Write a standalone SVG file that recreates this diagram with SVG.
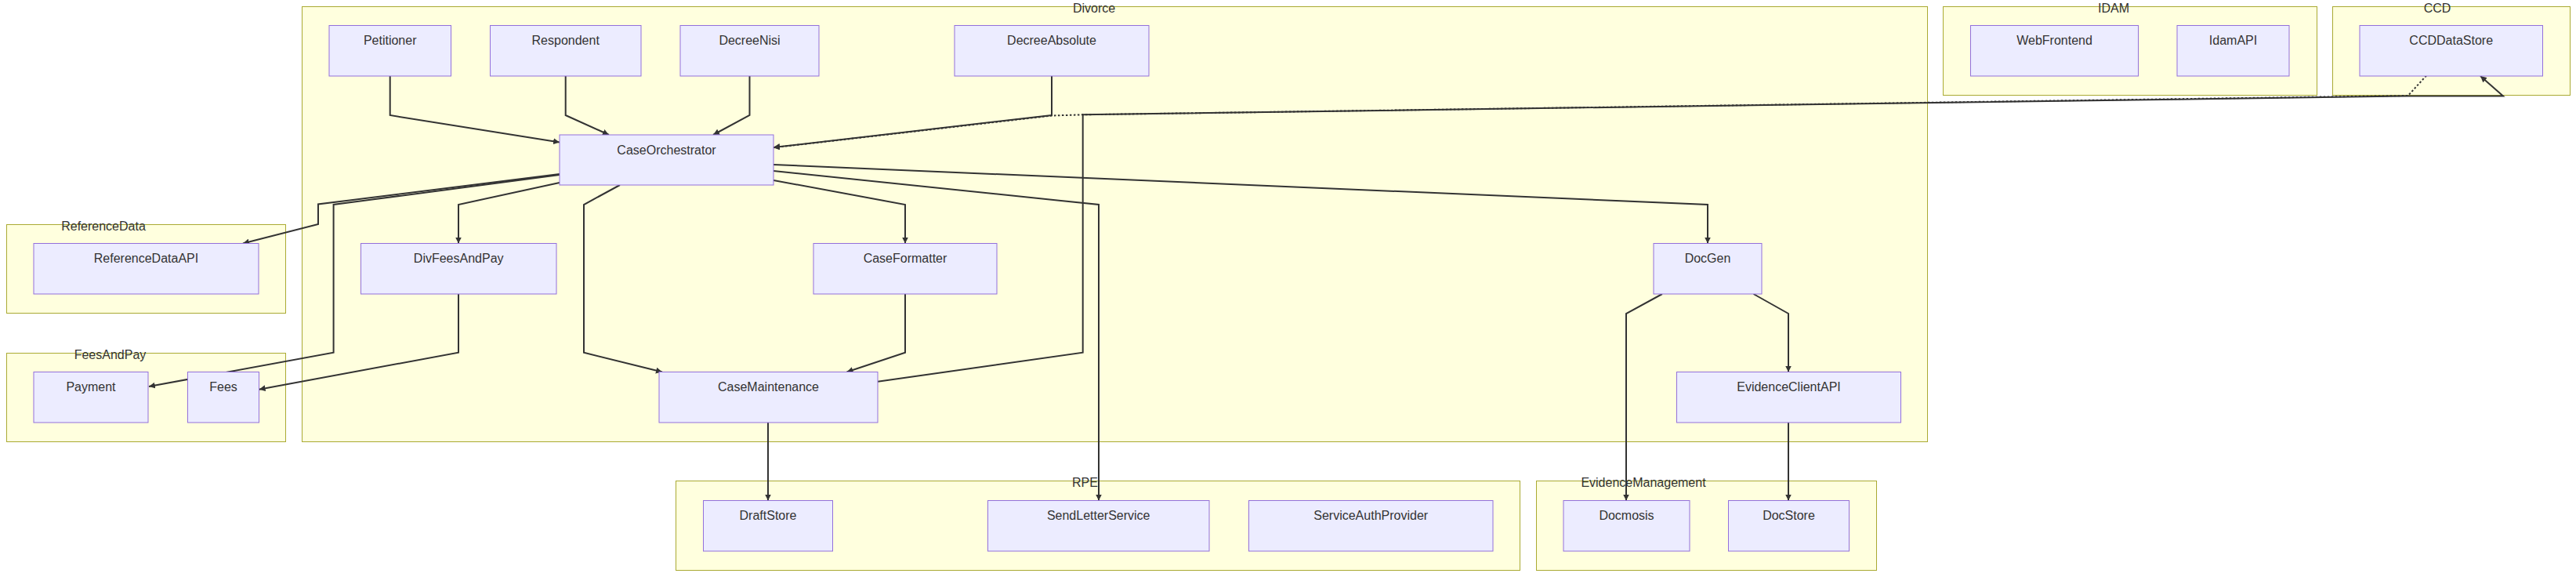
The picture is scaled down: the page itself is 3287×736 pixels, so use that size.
<svg xmlns="http://www.w3.org/2000/svg" width="3287" height="736" viewBox="0 0 3287 736">
<defs>
<style>
.cluster rect{fill:#ffffde;stroke:#aaaa33;stroke-width:1}
.cluster text{font-family:"Liberation Sans",Arial,sans-serif;font-size:16px;fill:#333;text-anchor:middle}
.node rect{fill:#ececff;stroke:#9370db;stroke-width:1}
.node text{font-family:"Liberation Sans",Arial,sans-serif;font-size:16px;fill:#333;text-anchor:middle}
.edge{fill:none;stroke:#333;stroke-width:2;marker-end:url(#arrow)}
.dotted{stroke-dasharray:2.5 2.5}
</style>
<marker id="arrow" viewBox="0 0 10 10" refX="10" refY="5" markerWidth="8" markerHeight="8" markerUnits="userSpaceOnUse" orient="auto">
<path d="M0,0 L10,5 L0,10 z" fill="#333"/>
</marker>
</defs>
<rect width="3287" height="736" fill="#ffffff"/>
<g id="clusters">
<g class="cluster" id="cluster-Divorce"><rect x="385.5" y="8.5" width="2074" height="555"/><text x="1396" y="15.5">Divorce</text></g>
<g class="cluster" id="cluster-ReferenceData"><rect x="8.5" y="286.5" width="356" height="113"/><text x="132" y="293.5">ReferenceData</text></g>
<g class="cluster" id="cluster-FeesAndPay"><rect x="8.5" y="450.5" width="356" height="113"/><text x="140.5" y="457.5">FeesAndPay</text></g>
<g class="cluster" id="cluster-IDAM"><rect x="2479.5" y="8.5" width="477" height="113"/><text x="2697" y="15.5">IDAM</text></g>
<g class="cluster" id="cluster-CCD"><rect x="2976.5" y="8.5" width="303" height="113"/><text x="3110" y="15.5">CCD</text></g>
<g class="cluster" id="cluster-RPE"><rect x="862.5" y="613.5" width="1077" height="114"/><text x="1384.5" y="620.5">RPE</text></g>
<g class="cluster" id="cluster-EvidenceManagement"><rect x="1960.5" y="613.5" width="434" height="114"/><text x="2097" y="620.5">EvidenceManagement</text></g>
</g>
<g id="connectors">
<path class="edge" d="M497.7,97 L497.7,147 L714,181.5"/>
<path class="edge" d="M721.7,97 L721.7,147 L777,172"/>
<path class="edge" d="M956.5,97 L956.5,147 L910,172"/>
<path class="edge" d="M1342,97 L1342,147 L987,188"/>
<path class="edge dotted" d="M3096,96.5 L3072.7,122 L1381.7,146.3 L1342,147.5 L987,188.3"/>
<path class="edge" d="M1120,486.7 L1381.7,449.7 L1381.7,146.3 L3072.7,122.5 L3194,122.5 L3165,97"/>
<path class="edge" d="M714,222 L406,260.5 L406,286 L310,310.5"/>
<path class="edge" d="M714,223 L425.6,261 L425.6,449.7 L190,493"/>
<path class="edge" d="M714,233 L585,261 L585,310.5"/>
<path class="edge" d="M585,375 L585,449.7 L330.6,496.7"/>
<path class="edge" d="M791,236 L745,261 L745,449.7 L845,474.5"/>
<path class="edge" d="M987,230 L1155,261 L1155,310.5"/>
<path class="edge" d="M1155,375 L1155,449.7 L1080.5,474.5"/>
<path class="edge" d="M987,218 L1402,261 L1402,638.5"/>
<path class="edge" d="M987,210 L2179,261 L2179,310.5"/>
<path class="edge" d="M2121,375 L2075,400 L2075,638.5"/>
<path class="edge" d="M2237.5,375 L2282,400 L2282,474.5"/>
<path class="edge" d="M2282,539 L2282,638.5"/>
<path class="edge" d="M980,539 L980,638.5"/>
</g>
<g class="node" id="Petitioner"><rect x="420" y="32.5" width="155.5" height="64.5"/><text x="497.7" y="57">Petitioner</text></g>
<g class="node" id="Respondent"><rect x="625.5" y="32.5" width="192.5" height="64.5"/><text x="721.7" y="57">Respondent</text></g>
<g class="node" id="DecreeNisi"><rect x="868" y="32.5" width="177" height="64.5"/><text x="956.5" y="57">DecreeNisi</text></g>
<g class="node" id="DecreeAbsolute"><rect x="1218" y="32.5" width="248" height="64.5"/><text x="1342" y="57">DecreeAbsolute</text></g>
<g class="node" id="CaseOrchestrator"><rect x="714" y="172" width="273" height="64"/><text x="850.5" y="196.5">CaseOrchestrator</text></g>
<g class="node" id="ReferenceDataAPI"><rect x="43" y="310.5" width="287" height="64.5"/><text x="186.5" y="335">ReferenceDataAPI</text></g>
<g class="node" id="DivFeesAndPay"><rect x="460.5" y="310.5" width="249.5" height="64.5"/><text x="585.2" y="335">DivFeesAndPay</text></g>
<g class="node" id="CaseFormatter"><rect x="1038" y="310.5" width="234" height="64.5"/><text x="1155" y="335">CaseFormatter</text></g>
<g class="node" id="DocGen"><rect x="2110" y="310.5" width="138" height="64.5"/><text x="2179" y="335">DocGen</text></g>
<g class="node" id="Payment"><rect x="43" y="474.5" width="146" height="64.5"/><text x="116" y="499">Payment</text></g>
<g class="node" id="Fees"><rect x="239.5" y="474.5" width="91" height="64.5"/><text x="285" y="499">Fees</text></g>
<g class="node" id="CaseMaintenance"><rect x="841" y="474.5" width="279" height="64.5"/><text x="980.5" y="499">CaseMaintenance</text></g>
<g class="node" id="EvidenceClientAPI"><rect x="2139.5" y="474.5" width="286" height="64.5"/><text x="2282.5" y="499">EvidenceClientAPI</text></g>
<g class="node" id="WebFrontend"><rect x="2514.5" y="32.5" width="214" height="64.5"/><text x="2621.5" y="57">WebFrontend</text></g>
<g class="node" id="IdamAPI"><rect x="2778" y="32.5" width="143" height="64.5"/><text x="2849.5" y="57">IdamAPI</text></g>
<g class="node" id="CCDDataStore"><rect x="3011" y="32.5" width="233.5" height="64.5"/><text x="3127.7" y="57">CCDDataStore</text></g>
<g class="node" id="DraftStore"><rect x="897.5" y="638.5" width="165" height="64.5"/><text x="980" y="663">DraftStore</text></g>
<g class="node" id="SendLetterService"><rect x="1260.5" y="638.5" width="282.5" height="64.5"/><text x="1401.7" y="663">SendLetterService</text></g>
<g class="node" id="ServiceAuthProvider"><rect x="1593.5" y="638.5" width="311.5" height="64.5"/><text x="1749.2" y="663">ServiceAuthProvider</text></g>
<g class="node" id="Docmosis"><rect x="1995" y="638.5" width="161" height="64.5"/><text x="2075.5" y="663">Docmosis</text></g>
<g class="node" id="DocStore"><rect x="2205.5" y="638.5" width="154" height="64.5"/><text x="2282.5" y="663">DocStore</text></g>
</svg>
